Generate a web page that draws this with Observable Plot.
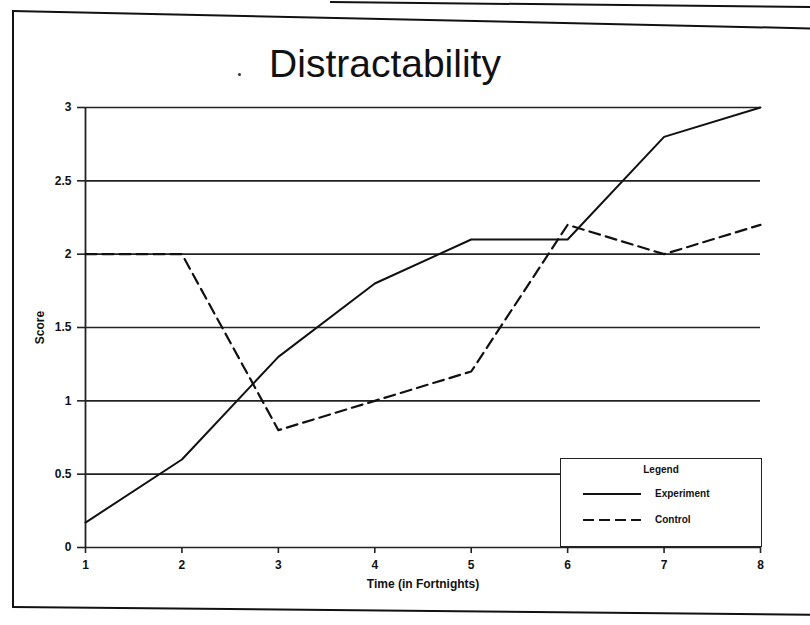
<!DOCTYPE html>
<html>
<head>
<meta charset="utf-8">
<script src="https://cdn.jsdelivr.net/npm/d3@7"></script>
<script src="https://cdn.jsdelivr.net/npm/@observablehq/plot@0.6"></script>
<style>
  html, body { margin: 0; padding: 0; background: #fff; }
  #wrap { position: relative; width: 810px; height: 625px; overflow: hidden; font-family: "Liberation Sans", Arial, sans-serif; }
  #chart { position: absolute; left: 0; top: 0; }
  .edge { position: absolute; background: #111; transform-origin: 0 0; }
  #title { position: absolute; left: 0; width: 770px; top: 42px; text-align: center; font-size: 39px; color: #111; }
  #dot { position: absolute; left: 238px; top: 73px; width: 3px; height: 3px; background: #333; border-radius: 50%; }
  #legend { position: absolute; left: 560px; top: 458px; width: 200px; height: 87px; border: 1.5px solid #222; background: #fff; font-size: 10px; font-weight: bold; color: #111; }
  #legend .ttl { position: absolute; left: 0; width: 100%; top: 5px; text-align: center; }
  #legend .row { position: absolute; left: 22px; display: flex; align-items: center; }
  #legend .row span { margin-left: 14px; }
</style>
</head>
<body>
<div id="wrap">
  <div id="chart"></div>
  <div class="edge" style="left:12px; top:12px; width:2px; height:596px;"></div>
  <div class="edge" style="left:12px; top:10px; width:800px; height:2px; transform: rotate(1.25deg);"></div>
  <div class="edge" style="left:330px; top:1px; width:490px; height:2px; transform: rotate(0.6deg);"></div>
  <div class="edge" style="left:12px; top:606px; width:800px; height:2px; transform: rotate(0.55deg);"></div>
  <div id="title">Distractability</div>
  <div id="dot"></div>
  <div id="legend">
    <div class="ttl">Legend</div>
    <div class="row" style="top:29px;"><svg width="58" height="6"><line x1="0" y1="3" x2="58" y2="3" stroke="#111" stroke-width="2"/></svg><span>Experiment</span></div>
    <div class="row" style="top:55px;"><svg width="58" height="6"><line x1="0" y1="3" x2="58" y2="3" stroke="#111" stroke-width="2" stroke-dasharray="11,5"/></svg><span>Control</span></div>
  </div>
</div>
<script>
const fortnights = [1, 2, 3, 4, 5, 6, 7, 8];
const experiment = [0.17, 0.6, 1.3, 1.8, 2.1, 2.1, 2.8, 3.0];
const control = [2.0, 2.0, 0.8, 1.0, 1.2, 2.2, 2.0, 2.2];
const yTicks = [0, 0.5, 1, 1.5, 2, 2.5, 3];

const expData = fortnights.map((t, i) => ({t, v: experiment[i]}));
const ctlData = fortnights.map((t, i) => ({t, v: control[i]}));

const chart = Plot.plot({
  width: 810,
  height: 625,
  marginLeft: 85,
  marginRight: 50,
  marginTop: 107,
  marginBottom: 78,
  style: {fontFamily: "Liberation Sans, Arial, sans-serif", fontSize: "12px", fontWeight: "bold", color: "#111", background: "transparent"},
  x: {domain: [1, 8]},
  y: {domain: [0, 3]},
  marks: [
    Plot.ruleY(yTicks, {stroke: "#222", strokeWidth: 1.6}),
    Plot.ruleX([1], {stroke: "#222", strokeWidth: 1.8}),
    Plot.axisY({ticks: yTicks, tickSize: 8, tickPadding: 6, tickFormat: d => String(d), label: "Score", labelAnchor: "center", labelArrow: "none", labelOffset: 50, stroke: "#222", strokeWidth: 1.6}),
    Plot.axisX({ticks: fortnights, tickSize: 6, tickPadding: 7, tickFormat: d => d, label: "Time (in Fortnights)", labelAnchor: "center", labelArrow: "none", labelOffset: 40, stroke: "#222", strokeWidth: 1.6}),
    Plot.line(expData, {x: "t", y: "v", stroke: "#111", strokeWidth: 2}),
    Plot.line(ctlData, {x: "t", y: "v", stroke: "#111", strokeWidth: 2.2, strokeDasharray: "11,6"})
  ]
});
document.getElementById("chart").appendChild(chart);
</script>
</body>
</html>
